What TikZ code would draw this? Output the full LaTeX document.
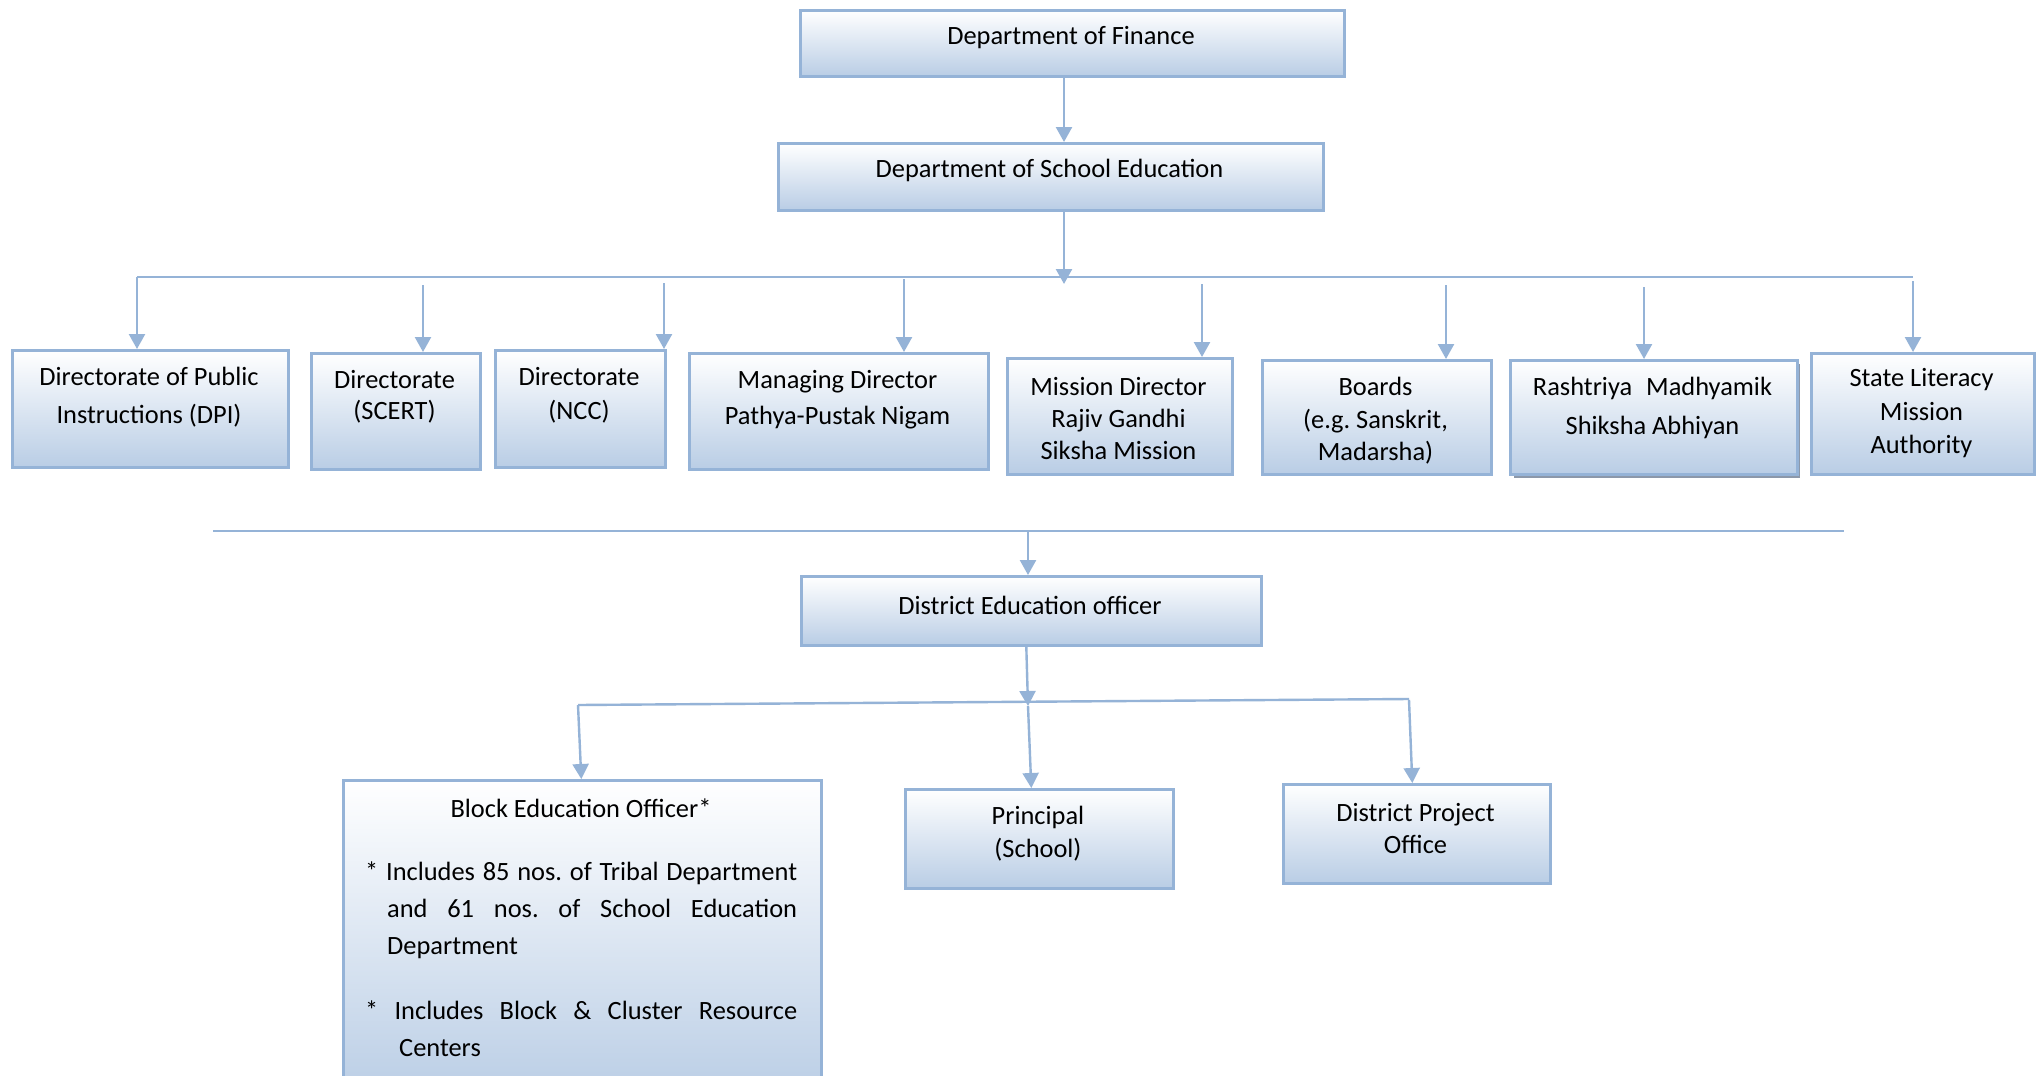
\documentclass[tikz,border=0pt]{standalone}
\usepackage{fontspec}
\setmainfont{Carlito}
\usetikzlibrary{arrows.meta}
\frenchspacing
\definecolor{lineblue}{RGB}{149,179,215}
\definecolor{boxborder}{RGB}{149,179,215}
\definecolor{gradbot}{RGB}{185,205,229}
\definecolor{gradmid}{RGB}{224,232,243}
\definecolor{shadowgray}{RGB}{140,152,170}
\newcommand{\orgfs}[1]{\fontsize{26.4}{#1}\selectfont}
\begin{document}
\begin{tikzpicture}[x=1pt,y=-1pt,
  orgbox/.style={rectangle, draw=boxborder, line width=2.6pt, inner sep=0pt,
    top color=white, middle color=gradmid, bottom color=gradbot, anchor=north west},
  txt/.style={inner sep=0pt, align=center, font=\orgfs{33}},
  conn/.style={draw=lineblue, line width=2.4pt},
  arr/.style={conn, -{Triangle[length=15pt,width=16pt]}}
]
\clip (0,0) rectangle (2040,1076);
\fill[white] (0,0) rectangle (2040,1076);

% ---- boxes ----
\node[orgbox, minimum width=544, minimum height=66] (fin) at (799,9) {};
\node[orgbox, minimum width=545, minimum height=67] (sch) at (777,142) {};
\node[orgbox, minimum width=276, minimum height=117] (dpi) at (11,349) {};
\node[orgbox, minimum width=169, minimum height=116] (scert) at (310,352) {};
\node[orgbox, minimum width=170, minimum height=117] (ncc) at (494,349) {};
\node[orgbox, minimum width=299, minimum height=116] (ppn) at (688,352) {};
\node[orgbox, minimum width=225, minimum height=116] (msn) at (1006,357) {};
\node[orgbox, minimum width=229, minimum height=114] (brd) at (1261,359) {};
\fill[shadowgray] (1514,364) rectangle (1800,478);
\node[orgbox, minimum width=287, minimum height=114] (rmsa) at (1509,359) {};
\node[orgbox, minimum width=223, minimum height=121] (slma) at (1810,352) {};
\node[orgbox, minimum width=460, minimum height=69] (deo) at (800,575) {};
\node[orgbox, minimum width=478, minimum height=320] (beo) at (342,779) {};
\node[orgbox, minimum width=268, minimum height=99] (prn) at (904,788) {};
\node[orgbox, minimum width=267, minimum height=99] (dpo) at (1282,783) {};

% ---- texts ----
\node[txt] (tfin) at (1071,38) {Department of Finance};
\node[txt] (tsch) at (1049.5,170) {Department of School Education};
\node[txt, font=\orgfs{38.5}] (tdpi) at (149,397) {Directorate of Public\\Instructions (DPI)};
\node[txt, font=\orgfs{31}] (tscert) at (394.5,397) {Directorate\\(SCERT)};
\node[txt, font=\orgfs{34}] (tncc) at (579,395) {Directorate\\(NCC)};
\node[txt, font=\orgfs{36}] (tppn) at (837.5,400) {Managing Director\\Pathya-Pustak Nigam};
\node[txt, font=\orgfs{32}] (tmsn) at (1118.5,419) {Mission Director\\Rajiv Gandhi\\Siksha Mission};
\node[txt, font=\orgfs{32.5}] (tbrd) at (1375.5,421) {Boards\\(e.g. Sanskrit,\\Madarsha)};
\node[txt, font=\orgfs{39}] (trmsa) at (1652.5,407.5) {Rashtriya\hspace{14pt}Madhyamik\\Shiksha Abhiyan};
\node[txt, font=\orgfs{33.5}] (tslma) at (1921.5,413.5) {State Literacy\\Mission\\Authority};
\node[txt] (tdeo) at (1030,605) {District Education officer};
\node[txt, font=\orgfs{33}] (tprn) at (1038,833.5) {Principal\\(School)};
\node[txt, font=\orgfs{32}] (tdpo) at (1415.5,828) {District Project\\Office};
\node[txt] (tbeo) at (581,808) {Block Education Officer*};
\node[inner sep=0pt, anchor=north west, align=left, font=\orgfs{37}] (tbeonote) at (365,862)
  {\makebox[432pt][s]{* Includes 85 nos. of Tribal Department}\\
   \hspace*{22pt}\makebox[410pt][s]{and 61 nos. of School Education}\\
   \hspace*{22pt}Department\\[28pt]
   \makebox[432pt][s]{* Includes Block \& Cluster Resource}\\
   \hspace*{34pt}Centers};

% ---- connectors ----
\coordinate (xa) at (1064,0);
\draw[arr] (fin.south -| xa) -- (sch.north -| xa);
\coordinate (busL) at (137,277);
\coordinate (busR) at (1913,277);
\coordinate (busM) at (1064,284);
\draw[conn] (busL) -- (busR);
\draw[arr] (sch.south -| xa) -- (busM);
\draw[arr] (busL) -- (busL |- dpi.north);
\coordinate (s2) at (423,285);
\draw[arr] (s2) -- (s2 |- scert.north);
\coordinate (s3) at (664,283);
\draw[arr] (s3) -- (s3 |- ncc.north);
\coordinate (s4) at (904,279);
\draw[arr] (s4) -- (s4 |- ppn.north);
\coordinate (s5) at (1202,284);
\draw[arr] (s5) -- (s5 |- msn.north);
\coordinate (s6) at (1446,285);
\draw[arr] (s6) -- (s6 |- brd.north);
\coordinate (s7) at (1644,287);
\draw[arr] (s7) -- (s7 |- rmsa.north);
\coordinate (s8) at (1913,281);
\draw[arr] (s8) -- (s8 |- slma.north);

\coordinate (b2L) at (213,531);
\coordinate (b2R) at (1844,531);
\coordinate (b2M) at (1028,531);
\draw[conn] (b2L) -- (b2R);
\draw[arr] (b2M) -- (b2M |- deo.north);

\coordinate (brL) at (578,705);
\coordinate (brR) at (1409,699);
\coordinate (brM) at (1028,706);
\coordinate (brD) at (1409,700);
\draw[conn] (brL) -- (brR);
\draw[arr] ([xshift=-5pt]deo.south) -- (brM);
\draw[arr] (brL) -- ([xshift=-1pt]beo.north);
\draw[arr] (brM) -- ([xshift=-8pt]prn.north);
\draw[arr] (brD) -- ([xshift=-4.5pt]dpo.north);
\end{tikzpicture}
\end{document}
